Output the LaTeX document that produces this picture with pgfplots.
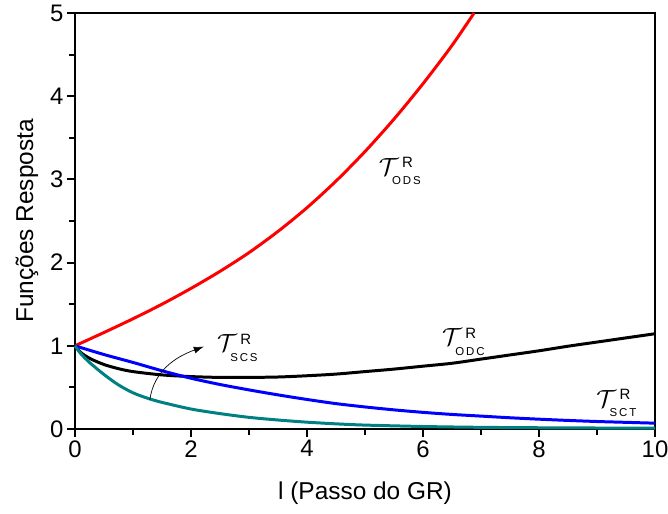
\documentclass[border=0pt]{standalone}
\usepackage{fontspec}
\setmainfont{Liberation Sans}
\usepackage{pgfplots}
\pgfplotsset{compat=1.18}
\usetikzlibrary{arrows.meta}
\definecolor{tealc}{RGB}{0,128,128}
\newcommand{\Tlab}[3]{%
  \node[inner sep=0pt, font=\fontsize{37}{37}\selectfont] (T) at (axis cs:#1,#2) {$\mathcal{T}$};
  \node[inner sep=0pt, anchor=north west, font=\fontsize{15}{15}\selectfont] at ([xshift=3bp,yshift=1bp]T.north east) {R};
  \node[inner sep=0pt, anchor=north west, font=\fontsize{11.5}{11.5}\selectfont] at ([xshift=-7bp,yshift=-1bp]T.south east) {#3};
}
\begin{document}
\begin{tikzpicture}
\begin{axis}[
  scale only axis, width=580bp, height=416bp,
  xmin=0, xmax=10, ymin=0, ymax=5,
  xtick={0,2,4,6,8,10}, ytick={0,1,2,3,4,5},
  minor x tick num=1, minor y tick num=1,
  xtick pos=left, ytick pos=left,
  tick align=outside,
  major tick length=8bp, minor tick length=6bp,
  axis line style={line width=2.4pt},
  every tick/.style={black, line width=2.2pt},
  tick label style={font=\fontsize{24}{24}\selectfont},
  label style={font=\fontsize{24.5}{24.5}\selectfont},
  /pgf/number format/assume math mode=true,
  xlabel={l (Passo do GR)}, ylabel={Funções Resposta},
  x label style={at={([yshift=-64bp]axis description cs:0.5,0)}, anchor=center},
  y label style={at={([xshift=-48bp]axis description cs:0,0.5)}, anchor=center},
  clip=false,
]
\coordinate (sw) at (rel axis cs:0,0);
\coordinate (ne) at (rel axis cs:1,1);
% ODS (red)
\addplot[red, line width=3pt, smooth] coordinates {
(0,1) (0.5,1.16) (1,1.325) (1.5,1.50) (2,1.69) (2.5,1.895) (3,2.12) (3.5,2.375)
(4,2.66) (4.5,2.98) (5,3.335) (5.5,3.725) (6,4.15) (6.5,4.61) (6.88,5)};
% ODC (black)
\addplot[black, line width=3pt, smooth, tension=0.5] coordinates {
(0,1) (0.1,0.92) (0.25,0.85) (0.5,0.775) (0.75,0.725) (1,0.69) (1.5,0.65) (2,0.63)
(2.5,0.62) (3,0.62) (3.5,0.625) (4,0.64) (4.5,0.66) (5,0.69) (5.5,0.72) (6,0.755)
(6.5,0.79) (7,0.84) (7.5,0.89) (8,0.94) (8.5,0.995) (9,1.045) (9.5,1.095) (10,1.145)};
% SCS (blue)
\addplot[blue, line width=3pt, smooth] coordinates {
(0,1) (0.5,0.895) (1,0.80) (1.5,0.70) (2,0.61) (2.5,0.535) (3,0.47) (3.5,0.41)
(4,0.355) (4.5,0.305) (5,0.265) (5.5,0.23) (6,0.20) (6.5,0.175) (7,0.155) (7.5,0.135)
(8,0.118) (8.5,0.103) (9,0.09) (9.5,0.08) (10,0.07)};
% SCT (teal)
\addplot[tealc, line width=3pt, smooth, tension=0.5] coordinates {
(0,1) (0.1,0.905) (0.25,0.80) (0.5,0.655) (0.75,0.53) (1,0.435) (1.25,0.37) (1.5,0.32)
(2,0.24) (2.5,0.185) (3,0.14) (3.5,0.108) (4,0.082) (4.5,0.062) (5,0.047) (6,0.03)
(7,0.02) (8,0.015) (9,0.012) (10,0.01)};
\draw[-{Latex[length=10bp,width=7bp]}, line width=0.7pt] (axis cs:1.29,0.35) to[out=82,in=200] (axis cs:2.22,0.99);
\Tlab{5.41}{3.15}{O\,D\,S}
\Tlab{6.50}{1.10}{O\,D\,C}
\Tlab{2.62}{1.03}{S\,C\,S}
\Tlab{9.16}{0.36}{S\,C\,T}
\end{axis}
\pgfresetboundingbox
\path[use as bounding box] ([shift={(-75bp,-85bp)}]sw) rectangle ([shift={(13bp,13bp)}]ne);
\end{tikzpicture}
\end{document}
